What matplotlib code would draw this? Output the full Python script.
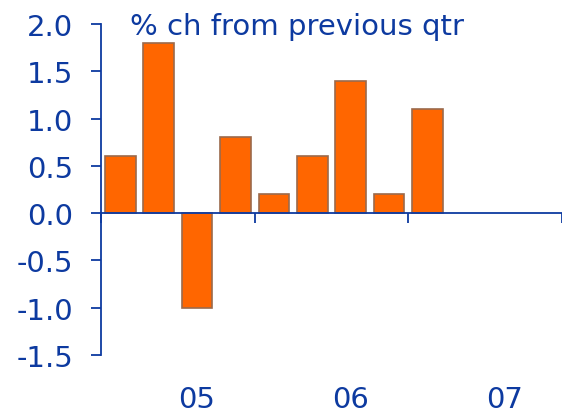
import matplotlib
matplotlib.use("Agg")
import matplotlib.pyplot as plt
import numpy as np

# quarterly % change, 2005Q1 .. 2007Q4 (blank where no data yet)
values = [0.6, 1.8, -1.0, 0.8, 0.2, 0.6, 1.4, 0.2, 1.1]
years = ["05", "06", "07"]
n_quarters = 12

BLUE = "#0d3aa0"
ORANGE = "#ff6600"
EDGE = "#9b6a4c"

fig = plt.figure(figsize=(5.62, 4.14), dpi=100)
fig.patch.set_facecolor("white")
ax = fig.add_axes([101 / 562, 58 / 414, 461 / 562, 331 / 414])

x = np.arange(len(values)) + 0.5
ax.bar(x, values, width=0.8, color=ORANGE, edgecolor=EDGE, linewidth=1.2, zorder=2)

ax.set_xlim(0, n_quarters)
ax.set_ylim(-1.5, 2.0)

ax.spines[["top", "right"]].set_visible(False)
ax.spines["bottom"].set_position(("data", 0))
for s in ["left", "bottom"]:
    ax.spines[s].set_color(BLUE)
    ax.spines[s].set_linewidth(1.3)
    ax.spines[s].set_zorder(3)

ax.set_yticks(np.arange(-1.5, 2.01, 0.5))
ax.set_yticklabels([f"{v:.1f}" for v in np.arange(-1.5, 2.01, 0.5)])
ax.tick_params(axis="y", length=7, width=1.3, color=BLUE, labelcolor=BLUE,
               labelsize=21, pad=13)

ax.set_xticks(np.arange(0, n_quarters + 1, 4))
ax.set_xticklabels([])
ax.tick_params(axis="x", length=7.5, width=1.3, color=BLUE, direction="out")

# year labels sit under the third quarter of each year
for i, yr in enumerate(years):
    ax.text(i * 4 + 2.5, -0.133, yr, transform=ax.get_xaxis_transform(),
            ha="center", va="center", fontsize=21, color=BLUE)

fig.text(130 / 562, (414 - 35) / 414, "% ch from previous qtr", ha="left",
         va="baseline", fontsize=21, color=BLUE)

fig.savefig("out.png", dpi=100)
plt.close(fig)
